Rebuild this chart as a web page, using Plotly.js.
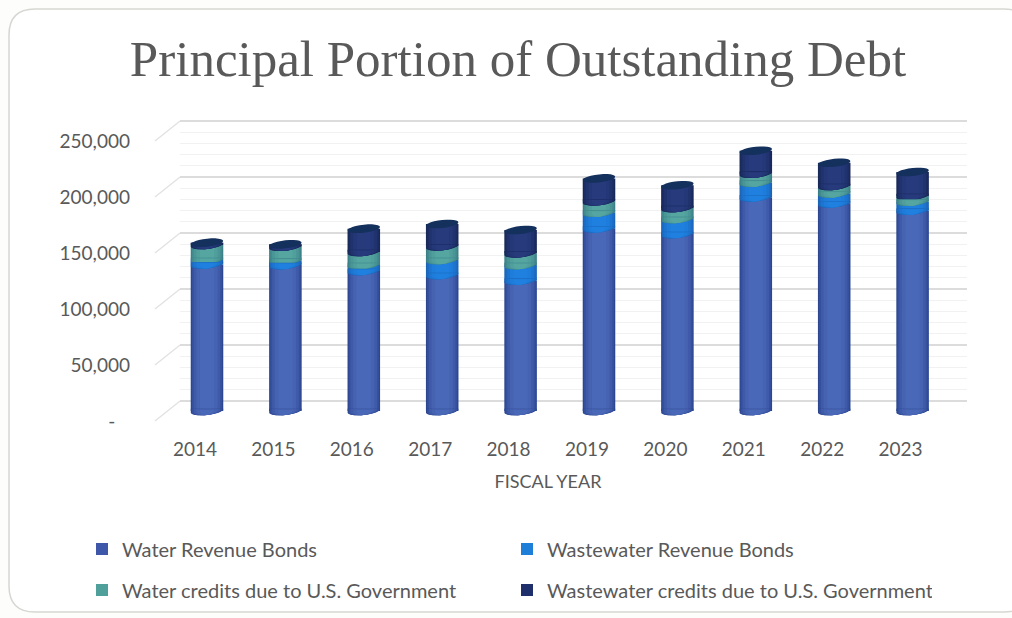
<!DOCTYPE html>
<html><head><meta charset="utf-8">
<script src="https://cdn.plot.ly/plotly-3.0.1.min.js"></script>
<style>html,body{margin:0;padding:0;background:#fdfdfb}#c{width:1012px;height:618px}</style>
</head><body><div id="c"></div>
<script>
const years = [2014,2015,2016,2017,2018,2019,2020,2021,2022,2023];
const waterBonds      = [130900,130300,125000,121400,116400,163100,158000,190800,185400,178900];
const wastewaterBonds = [3900,3900,5300,13400,13900,14000,13400,13100,8900,8000];
const waterCredits    = [13400,12500,11700,12200,10500,10100,9800,8000,6600,5100];
const wastewaterCredits = [2100,2100,20800,20000,20800,20500,20400,20500,20700,21400];
const seriesNames = ['Water Revenue Bonds','Wastewater Revenue Bonds','Water credits due to U.S. Government','Wastewater credits due to U.S. Government'];
const yTickVals = [0,50000,100000,150000,200000,250000];
const yTickText = ['-\u00a0\u00a0\u00a0','50,000','100,000','150,000','200,000','250,000'];

const W=1012,H=618, PY=0.00112, PX=78.4;
const fx=p=>p/W, fy=p=>1-p/H;
const edge=['#2c4690','#1a64b8','#3a7f86','#182858'];
const mid =['#4a68b8','#1f80e0','#55a5a0','#263a7c'];
const legendCol=['#3f57a8','#1f7ed8','#4fa09a','#1f2f6b'];
const series=[waterBonds,wastewaterBonds,waterCredits,wastewaterCredits];
const hex=c=>[1,3,5].map(i=>parseInt(c.substr(i,2),16));
const mix=(a,b,t)=>{const A=hex(a),B=hex(b);return 'rgb('+A.map((v,i)=>Math.round(v+(B[i]-v)*t)).join(',')+')';};

const bases=[];let run=years.map(()=>0);
series.forEach(s=>{bases.push(run.slice());run=run.map((v,i)=>v+s[i]);});
const totals=run;

const layers=[{w:0.415,t:0},{w:0.385,t:.3},{w:0.34,t:.6},{w:0.27,t:.85},{w:0.18,t:1}];
const traces=[];
traces.push({type:'scatter',mode:'none',x:[0.5],y:[0],xaxis:'x',yaxis:'y',showlegend:false,hoverinfo:'skip'});
layers.forEach(l=>{
  series.forEach((s,si)=>{
    traces.push({type:'bar',x:years,y:s,base:bases[si],width:l.w,name:seriesNames[si],
      xaxis:'x3',yaxis:'y3',hoverinfo:'skip',showlegend:false,
      marker:{color:mix(edge[si],mid[si],l.t),line:{width:0}}});
  });
});
series.forEach((s,si)=>{
  traces.push({type:'bar',x:years,y:s,base:bases[si],width:0.1,name:seriesNames[si],
    xaxis:'x3',yaxis:'y3',hoverinfo:'skip',showlegend:true,legend:si<2?'legend':'legend2',
    marker:{color:legendCol[si],line:{width:0},opacity:0}});
});

const A0=16.2,B0=4,SK=1.7;
function capPath(cx,val,scale){
  const a=A0*scale,b=B0,sk=SK*scale;let pts=[];const n=24;
  for(let i=0;i<=n;i++){const t=2*Math.PI*i/n;
    pts.push((cx+a*Math.cos(t)/PX).toFixed(4)+','+(val-(b*Math.sin(t)-sk*Math.cos(t))/PY).toFixed(1));}
  return 'M'+pts.join('L')+'Z';
}
function lensPath(cx,val,scale){
  const a=A0*scale,b=B0,sk=SK*scale;let pts=[];const n=20;
  for(let i=0;i<=n;i++){const t=Math.PI*i/n;
    pts.push((cx+a*Math.cos(t)/PX).toFixed(4)+','+(val-(b*Math.sin(t)-sk*Math.cos(t))/PY).toFixed(1));}
  pts.push((cx-a/PX).toFixed(4)+','+(val+(sk+0.5)/PY).toFixed(1));
  pts.push((cx+a/PX).toFixed(4)+','+(val+(sk+0.5)/PY).toFixed(1));
  return 'M'+pts.join('L')+'Z';
}
const shapes=[];
const cardX0=9,cardY0=9,cardX1=1030,cardY1=612,r=26;
const P=(x,y)=>fx(x).toFixed(5)+','+fy(y).toFixed(5);
shapes.push({type:'path',xref:'paper',yref:'paper',layer:'below',fillcolor:'#ffffff',line:{color:'#d6d6d2',width:1.5},
 path:'M'+P(cardX0+r,cardY0)+'L'+P(cardX1-r,cardY0)+'Q'+P(cardX1,cardY0)+' '+P(cardX1,cardY0+r)+'L'+P(cardX1,cardY1-r)+'Q'+P(cardX1,cardY1)+' '+P(cardX1-r,cardY1)+'L'+P(cardX0+r,cardY1)+'Q'+P(cardX0,cardY1)+' '+P(cardX0,cardY1-r)+'L'+P(cardX0,cardY0+r)+'Q'+P(cardX0,cardY0)+' '+P(cardX0+r,cardY0)+'Z'});
yTickVals.forEach(v=>{
  shapes.push({type:'line',xref:'paper',yref:'y2',x0:fx(155),x1:fx(180),y0:v,y1:v+20/PY,layer:'below',line:{color:'#e2e2e2',width:1.5}});
});
years.forEach((yr,i)=>{
  for(let si=3;si>=0;si--){
    layers.forEach(l=>{
      const scale=l.w/layers[0].w;
      shapes.push({type:'path',xref:'x3',yref:'y3',path:lensPath(yr,bases[si][i],scale),
        fillcolor:mix(edge[si],mid[si],l.t),line:{width:0}});
    });
  }
  shapes.push({type:'path',xref:'x3',yref:'y3',path:capPath(yr,totals[i],1),fillcolor:'#14305c',line:{width:0}});
});

const font={family:'Lato, sans-serif',color:'#595959'};
const hidden={showgrid:false,zeroline:false,showticklabels:false,showline:false,ticks:''};
const legendBase={orientation:'h',x:fx(82),xanchor:'left',yanchor:'middle',entrywidth:380,entrywidthmode:'pixels',
    traceorder:'normal',bgcolor:'rgba(0,0,0,0)',font:{family:font.family,size:20,color:'#595959'}};
const layout={
  width:W,height:H,margin:{l:0,r:0,t:0,b:0},paper_bgcolor:'#fdfdfb',plot_bgcolor:'rgba(0,0,0,0)',
  barmode:'overlay',showlegend:true,font:font,
  title:{text:'Principal Portion of Outstanding Debt',x:fx(518),xanchor:'center',y:fy(58),yanchor:'middle',
    font:{family:'Liberation Serif, serif',size:51,color:'#595959'}},
  xaxis:Object.assign({domain:[fx(180),fx(967)],range:[0,1],anchor:'y'},hidden),
  yaxis:{domain:[fy(406),fy(112)],range:[-5/PY,289/PY],anchor:'x',tickvals:yTickVals,showticklabels:false,ticks:'',zeroline:false,showline:false,
    showgrid:true,gridcolor:'#dcdcdc',gridwidth:1.5,
    minor:{dtick:10000,showgrid:true,gridcolor:'#f1f1f1',gridwidth:1}},
  xaxis2:{domain:[fx(157),fx(939)],range:[2014-38/PX,2014+744/PX],anchor:'y2',tickvals:years,ticktext:years.map(String),
    showgrid:false,zeroline:false,showline:false,ticks:'',ticklabelstandoff:11,tickfont:{family:font.family,size:19,color:'#595959'},
    title:{text:'FISCAL YEAR',standoff:16,font:{family:font.family,size:18,color:'#595959'}}},
  yaxis2:{domain:[fy(425),fy(115)],range:[-4/PY,(421-115)/PY],anchor:'x2',tickvals:yTickVals,ticktext:yTickText,
    showgrid:false,zeroline:false,showline:false,ticks:'',ticklabelstandoff:26,tickfont:{family:font.family,size:19,color:'#595959'}},
  xaxis3:Object.assign({domain:[fx(157),fx(968)],range:[2014-50/PX,2014+761/PX],anchor:'y3'},hidden),
  yaxis3:Object.assign({domain:[fy(425),fy(115)],range:[-14/PY,(411-115)/PY],anchor:'x3'},hidden),
  legend:Object.assign({y:fy(549)},legendBase),
  legend2:Object.assign({y:fy(590)},legendBase),
  shapes:shapes
};
Plotly.newPlot('c',traces,layout,{displayModeBar:false,responsive:false,staticPlot:true});
</script></body></html>
